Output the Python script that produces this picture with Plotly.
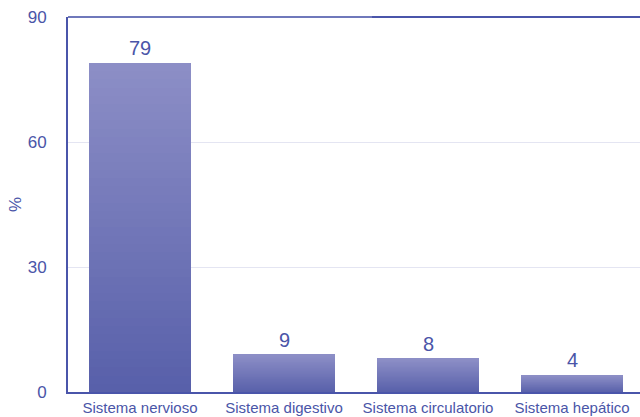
import plotly.graph_objects as go

# Data
categories = ["Sistema nervioso", "Sistema digestivo", "Sistema circulatorio", "Sistema hepático"]
values = [79, 9, 8, 4]
y_ticks = [0, 30, 60, 90]

INK = "#4a55a8"
TOP_RGB = (140, 142, 198)
BOTTOM_RGB = (88, 96, 170)
N_STEPS = 40

fig = go.Figure()

# Vertical gradient for each bar, built as stacked slices of its own value
for k in range(N_STEPS):
    t = k / (N_STEPS - 1)
    r, g, b = (round(BOTTOM_RGB[i] + (TOP_RGB[i] - BOTTOM_RGB[i]) * t) for i in range(3))
    fig.add_trace(go.Bar(
        x=list(range(len(categories))),
        y=[v / N_STEPS for v in values],
        marker=dict(color=f"rgb({r},{g},{b})", line=dict(width=0)),
        width=0.71,
        hoverinfo="skip",
        showlegend=False,
    ))

# Value labels above each bar
for i, v in enumerate(values):
    fig.add_annotation(x=i, y=v, text=str(v), showarrow=False,
                       yanchor="bottom", yshift=2,
                       font=dict(size=20, color=INK))

# Y-axis title
fig.add_annotation(xref="paper", yref="paper", x=-64 / 572, y=0.5,
                   xanchor="left",
                   text="%", textangle=-90, showarrow=False,
                   font=dict(size=17, color=INK))

# Top frame line (lighter on the left part, darker on the right)
fig.add_shape(type="line", xref="paper", yref="paper", x0=0, x1=304 / 572, y0=1, y1=1,
              line=dict(color="#6f78bb", width=2), layer="above")
fig.add_shape(type="line", xref="paper", yref="paper", x0=304 / 572, x1=1, y0=1, y1=1,
              line=dict(color="#4a55aa", width=2), layer="above")

fig.update_layout(
    width=640, height=417,
    margin=dict(l=68, r=0, t=17, b=25),
    barmode="stack",
    bargap=0,
    plot_bgcolor="white",
    paper_bgcolor="white",
    font=dict(family="Liberation Sans, Arial, sans-serif", color=INK),
    xaxis=dict(
        tickmode="array",
        tickvals=list(range(len(categories))),
        ticktext=categories,
        range=[-0.5, 3.472],
        showline=True, linecolor="#4a55aa", linewidth=2,
        showgrid=False, ticks="", tickfont=dict(size=15, color=INK),
        ticklabelstandoff=1,
        fixedrange=True,
    ),
    yaxis=dict(
        range=[0, 90],
        tickmode="array",
        tickvals=y_ticks,
        showline=True, linecolor="#4a55aa", linewidth=2,
        showgrid=True, gridcolor="#e4e5f2", gridwidth=1,
        zeroline=False, ticks="", ticklabelstandoff=16,
        tickfont=dict(size=17, color=INK),
        fixedrange=True,
    ),
)

fig.write_html("out.html")
